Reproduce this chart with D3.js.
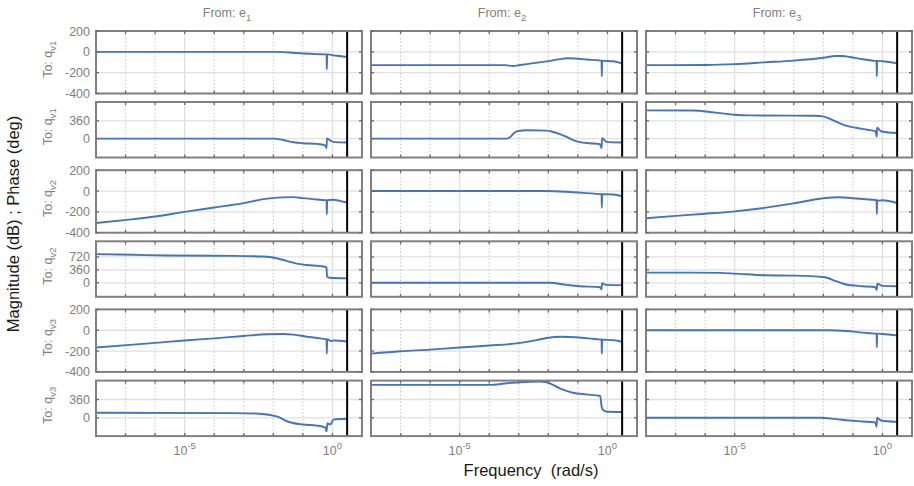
<!DOCTYPE html>
<html>
<head>
<meta charset="utf-8">
<script src="https://cdn.jsdelivr.net/npm/d3@7"></script>
<style>
  body { margin: 0; background: #fff; }
  text { font-family: "Liberation Sans", Arial, Helvetica, sans-serif; }
</style>
</head>
<body>
<svg id="chart" width="914" height="486"></svg>
<script>
// ---- Bode diagram data: 3 inputs (e1..e3) x 3 outputs (qv1..qv3) ----
// Each point is [log10(frequency in rad/s), value]; magnitude in dB, phase in deg.
const inputSubs = ["1", "2", "3"];
const outputSubs = ["v1", "v2", "v3"];
const freqDomain = [1e-8, 1e1];
const nyquistFreq = Math.PI;
const majorDecades = [-5, 0];
const minorDecades = [-7, -6, -4, -3, -2, -1];
const tickDecades = [-7, -6, -5, -4, -3, -2, -1, 0];
const magDomain = [-400, 200];
const magTicks = [-400, -200, 0, 200];
const phaseDomains = [[-380, 740], [-390, 1155], [-360, 732]];
const phaseTicks = [[0, 360], [0, 360, 720], [0, 360]];

// From e1
const magE1Qv1 = [[-8,0],[-2,0],[-1.66,-3],[-1.44,-7],[-0.99,-16],[-0.53,-22],[-0.25,-24],[-0.2,-25],[-0.19,-168],[-0.18,-25],[-0.14,-24],[0.03,-34],[0.25,-40],[0.497,-50]];
const phsE1Qv1 = [[-8,0],[-2,0],[-1.66,-28],[-1.32,-71],[-0.99,-92],[-0.53,-106],[-0.25,-134],[-0.2,-190],[-0.185,5],[-0.08,-35],[0.03,-64],[0.497,-78]];
const magE1Qv2 = [[-8,-307],[-6.96,-277],[-5.99,-245],[-5,-200],[-4,-158],[-3,-116],[-2.34,-78],[-1.66,-61],[-1.32,-58],[-0.99,-68],[-0.53,-81],[-0.25,-87],[-0.2,-88],[-0.19,-223],[-0.18,-88],[-0.14,-87],[0.03,-84],[0.25,-94],[0.497,-110]];
const phsE1Qv2 = [[-8,798],[-6.74,779],[-5.6,760],[-3.35,750],[-2.34,731],[-1.89,684],[-1.55,608],[-1.21,532],[-0.87,494],[-0.42,465],[-0.25,446],[-0.2,420],[-0.185,180],[-0.1,140],[0.497,124]];
const magE1Qv3 = [[-8,-166],[-6.96,-143],[-5.99,-121],[-5,-98],[-4,-78],[-3,-55],[-2.23,-39],[-1.66,-36],[-1.32,-42],[-0.87,-62],[-0.42,-78],[-0.25,-85],[-0.2,-86],[-0.19,-225],[-0.18,-88],[-0.14,-91],[-0.03,-104],[0.03,-98],[0.497,-108]];
const phsE1Qv3 = [[-8,100],[-3.35,93],[-2.45,80],[-1.89,27],[-1.44,-87],[-0.99,-133],[-0.53,-153],[-0.25,-187],[-0.2,-267],[-0.17,-107],[-0.08,-133],[-0.03,-100],[0.03,-35],[0.497,-20]];

// From e2
const magE2Qv1 = [[-8,-128],[-3.45,-128],[-3.2,-136],[-2.96,-127],[-2.5,-108],[-2.06,-92],[-1.61,-70],[-1.38,-62],[-1.1,-64],[-0.7,-74],[-0.23,-84],[-0.2,-85],[-0.19,-235],[-0.18,-86],[-0.08,-87],[0.2,-91],[0.497,-111]];
const phsE2Qv1 = [[-8,0],[-3.41,0],[-3.3,28],[-3.16,113],[-3.02,155],[-2.73,169],[-2.06,162],[-1.83,134],[-1.61,92],[-1.38,35],[-1.16,-28],[-0.93,-71],[-0.59,-92],[-0.25,-113],[-0.2,-190],[-0.18,7],[-0.03,-64],[0.497,-78]];
const magE2Qv2 = [[-8,0],[-2.06,0],[-1.38,-7],[-0.7,-20],[-0.23,-30],[-0.2,-31],[-0.19,-160],[-0.18,-31],[-0.15,-30],[0.2,-33],[0.497,-50]];
const phsE2Qv2 = [[-8,0],[-1.95,0],[-1.38,-57],[-0.93,-95],[-0.25,-123],[-0.2,-180],[-0.185,-10],[-0.05,-57],[0.497,-66]];
const magE2Qv3 = [[-8,-225],[-7,-202],[-6,-186],[-5,-166],[-4,-147],[-3,-124],[-2.4,-95],[-2.06,-75],[-1.55,-62],[-1.04,-68],[-0.53,-81],[-0.28,-88],[-0.2,-89],[-0.19,-225],[-0.18,-90],[-0.13,-91],[0.2,-95],[0.497,-111]];
const phsE2Qv3 = [[-8,647],[-4,647],[-3.4,680],[-2.96,700],[-2.28,713],[-2.06,700],[-1.61,580],[-1.16,493],[-0.71,460],[-0.27,433],[-0.24,420],[-0.2,230],[-0.16,160],[-0.05,125],[0.497,113]];

// From e3
const magE3Qv1 = [[-8,-128],[-6,-126],[-5,-118],[-4,-101],[-3,-84],[-2,-57],[-1.57,-40],[-1.35,-40],[-1.1,-50],[-0.67,-71],[-0.24,-87],[-0.2,-88],[-0.19,-235],[-0.18,-88],[-0.16,-87],[0,-91],[0.497,-111]];
const phsE3Qv1 = [[-8,572],[-6.4,568],[-5.7,530],[-5,482],[-4.5,470],[-2.3,462],[-2,450],[-1.7,380],[-1.4,300],[-1.2,258],[-0.9,220],[-0.5,180],[-0.24,150],[-0.195,42],[-0.18,219],[-0.05,150],[0.2,125],[0.497,113]];
const magE3Qv2 = [[-8,-261],[-7,-238],[-6,-218],[-5,-195],[-4,-162],[-3,-119],[-2,-69],[-1.47,-59],[-0.99,-69],[-0.24,-86],[-0.2,-87],[-0.19,-221],[-0.18,-90],[-0.15,-92],[0,-89],[0.497,-115]];
const phsE3Qv2 = [[-8,284],[-6.5,284],[-5.5,275],[-5,256],[-4,209],[-3,199],[-2,161],[-1.57,47],[-1.23,-47],[-0.67,-95],[-0.24,-123],[-0.2,-199],[-0.17,-28],[0,-85],[0.497,-95]];
const magE3Qv3 = [[-8,0],[-1.9,0],[-1.23,-7],[-0.67,-23],[-0.24,-33],[-0.2,-34],[-0.19,-163],[-0.18,-34],[-0.16,-33],[0,-36],[0.497,-49]];
const phsE3Qv3 = [[-8,0],[-2.1,0],[-1.57,-27],[-1.12,-53],[-0.67,-73],[-0.24,-93],[-0.2,-173],[-0.18,0],[-0.05,-53],[0.497,-80]];

// Grid of responses: [output][input]
const magGrid = [
  [magE1Qv1, magE2Qv1, magE3Qv1],
  [magE1Qv2, magE2Qv2, magE3Qv2],
  [magE1Qv3, magE2Qv3, magE3Qv3]
];
const phsGrid = [
  [phsE1Qv1, phsE2Qv1, phsE3Qv1],
  [phsE1Qv2, phsE2Qv2, phsE3Qv2],
  [phsE1Qv3, phsE2Qv3, phsE3Qv3]
];

// ---- layout ----
const colLeft = [96, 371, 646];
const colW = 266;
const magTop = i => 31 + 139.2 * i, magH = 62.5;
const phsTop = i => 102 + 139.3 * i, phsH = 55.5;

const lineColor = "#4472c4";
const frameColor = "#808080";
const gridColor = "#e0e0e0";
const labelGray = "#808080";

const svg = d3.select("#chart");
const defs = svg.append("defs");

function drawPanel(left, top, height, yDomain, yTicks, data, id, showYLabels) {
  const x = d3.scaleLog().domain(freqDomain).range([left, left + colW]);
  const y = d3.scaleLinear().domain(yDomain).range([top + height, top]);
  const g = svg.append("g");

  defs.append("clipPath").attr("id", id)
    .append("rect").attr("x", left).attr("y", top).attr("width", colW).attr("height", height);

  // y grid
  g.selectAll(null).data(yTicks).join("line")
    .attr("x1", left).attr("x2", left + colW)
    .attr("y1", d => y(d)).attr("y2", d => y(d))
    .attr("stroke", gridColor).attr("stroke-width", 1.3);
  // major x grid (solid)
  g.selectAll(null).data(majorDecades).join("line")
    .attr("x1", d => x(10 ** d)).attr("x2", d => x(10 ** d))
    .attr("y1", top).attr("y2", top + height)
    .attr("stroke", gridColor).attr("stroke-width", 1.3);
  // minor x grid (dotted)
  g.selectAll(null).data(minorDecades).join("line")
    .attr("x1", d => x(10 ** d)).attr("x2", d => x(10 ** d))
    .attr("y1", top).attr("y2", top + height)
    .attr("stroke", "#bdbdbd").attr("stroke-width", 1)
    .attr("stroke-dasharray", "1.2,2.3");

  // response curve
  const line = d3.line()
    .x(d => x(10 ** d[0]))
    .y(d => y(d[1]))
    .curve(d3.curveMonotoneX);
  g.append("path").datum(data)
    .attr("clip-path", `url(#${id})`)
    .attr("d", line)
    .attr("fill", "none")
    .attr("stroke", lineColor)
    .attr("stroke-width", 1.9)
    .attr("stroke-linejoin", "round");

  // Nyquist frequency marker
  g.append("line")
    .attr("x1", x(nyquistFreq)).attr("x2", x(nyquistFreq))
    .attr("y1", top).attr("y2", top + height)
    .attr("stroke", "#000").attr("stroke-width", 2);

  // frame
  g.append("rect")
    .attr("x", left).attr("y", top).attr("width", colW).attr("height", height)
    .attr("fill", "none").attr("stroke", frameColor).attr("stroke-width", 2);

  // inward tick marks
  const tk = 3;
  tickDecades.forEach(d => {
    const xx = x(10 ** d);
    g.append("line").attr("x1", xx).attr("x2", xx).attr("y1", top).attr("y2", top + tk)
      .attr("stroke", "#6a6a6a").attr("stroke-width", 1.3);
    g.append("line").attr("x1", xx).attr("x2", xx).attr("y1", top + height).attr("y2", top + height - tk)
      .attr("stroke", "#6a6a6a").attr("stroke-width", 1.3);
  });
  yTicks.forEach(v => {
    const yy = y(v);
    g.append("line").attr("x1", left).attr("x2", left + tk).attr("y1", yy).attr("y2", yy)
      .attr("stroke", "#6a6a6a").attr("stroke-width", 1.3);
    g.append("line").attr("x1", left + colW).attr("x2", left + colW - tk).attr("y1", yy).attr("y2", yy)
      .attr("stroke", "#6a6a6a").attr("stroke-width", 1.3);
  });

  if (showYLabels) {
    g.selectAll(null).data(yTicks).join("text")
      .attr("x", left - 6).attr("y", d => y(d))
      .attr("dy", "0.36em")
      .attr("text-anchor", "end")
      .attr("font-size", 12.5)
      .attr("fill", labelGray)
      .text(d => d);
  }
  return x;
}

let xScales = [];
for (let r = 0; r < 3; r++) {
  for (let c = 0; c < 3; c++) {
    const xs = drawPanel(colLeft[c], magTop(r), magH, magDomain, magTicks, magGrid[r][c], `m${r}${c}`, c === 0);
    drawPanel(colLeft[c], phsTop(r), phsH, phaseDomains[r], phaseTicks[r], phsGrid[r][c], `p${r}${c}`, c === 0);
    if (r === 2) xScales[c] = xs;
  }
}

// column titles
inputSubs.forEach((s, c) => {
  const t = svg.append("text")
    .attr("x", colLeft[c] + colW / 2 - 2).attr("y", 17)
    .attr("text-anchor", "middle").attr("font-size", 12.5).attr("fill", labelGray);
  t.append("tspan").text("From: e");
  t.append("tspan").attr("dy", 4).attr("font-size", 9.5).text(s);
});

// row labels (magnitude and phase rows of each output)
outputSubs.forEach((s, r) => {
  [[magTop(r), magH], [phsTop(r), phsH]].forEach(([top, h]) => {
    const t = svg.append("text")
      .attr("transform", `translate(52,${top + h / 2 - 3}) rotate(-90)`)
      .attr("text-anchor", "middle").attr("font-size", 12.5).attr("fill", labelGray);
    t.append("tspan").text("To: q");
    t.append("tspan").attr("dy", 4).attr("font-size", 9.5).text(s);
  });
});

// x tick labels under the bottom row
xScales.forEach(x => {
  majorDecades.forEach(d => {
    const t = svg.append("text")
      .attr("x", x(10 ** d)).attr("y", 455)
      .attr("text-anchor", "middle").attr("font-size", 12.5).attr("fill", labelGray);
    t.append("tspan").text("10");
    t.append("tspan").attr("dy", -6).attr("font-size", 9.5).text(d);
  });
});

// axis titles
svg.append("text")
  .attr("x", 531).attr("y", 476)
  .attr("text-anchor", "middle").attr("font-size", 16.5).attr("fill", "#1a1a1a")
  .style("white-space", "pre")
  .text("Frequency  (rad/s)");

svg.append("text")
  .attr("transform", "translate(19,224) rotate(-90)")
  .attr("text-anchor", "middle").attr("font-size", 16.5).attr("fill", "#1a1a1a")
  .style("white-space", "pre")
  .text("Magnitude (dB) ; Phase (deg)");
</script>
</body>
</html>
